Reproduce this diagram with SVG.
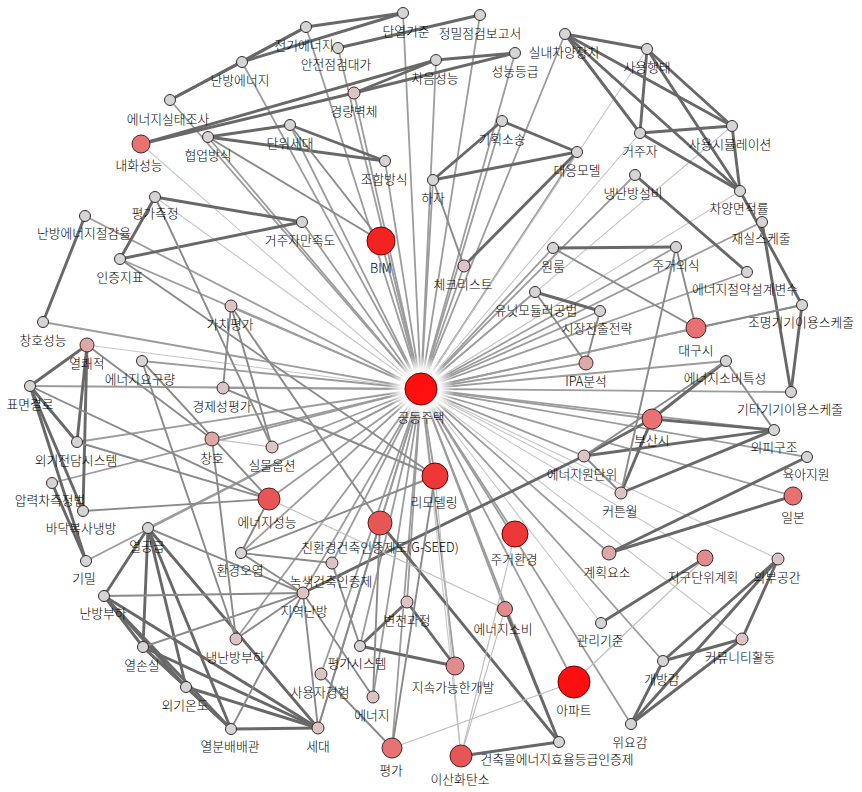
<svg xmlns="http://www.w3.org/2000/svg" width="862" height="792" viewBox="0 0 862 792">
<defs>
<radialGradient id="halo"><stop offset="0" stop-color="#fff" stop-opacity="1"/><stop offset="0.6" stop-color="#fff" stop-opacity="0.9"/><stop offset="1" stop-color="#fff" stop-opacity="0"/></radialGradient>
</defs>
<style>
line{stroke-linecap:round}
.h{stroke:#9c9c9c;stroke-width:1.8}
.hl{stroke:#c6c6c6;stroke-width:1.1}
.d{stroke:#686868;stroke-width:2.9}
.m{stroke:#8a8a8a;stroke-width:1.9}
.l{stroke:#bdbdbd;stroke-width:1.1}
circle{stroke:#3a2a2a;stroke-width:1}
.c0{fill:#ff0f0f;stroke:#600}
.c1{fill:#f52222;stroke:#600}
.c2{fill:#ee3838;stroke:#600}
.c3{fill:#e65656;stroke:#522}
.c4{fill:#e87272}
.c5{fill:#e08c8c}
.c6{fill:#dea8a8}
.c7{fill:#dcc4c4}
.c8{fill:#d5d5d5}
text{font-family:"Noto Sans CJK KR","Noto Sans",sans-serif;font-size:12.8px;font-weight:300;text-anchor:middle;fill:#000}
</style>
<rect width="862" height="792" fill="#fff"/>
<g id="edges">
<line class="h" x1="421" y1="389" x2="403" y2="13"/>
<line class="h" x1="421" y1="389" x2="480" y2="15"/>
<line class="h" x1="421" y1="389" x2="338" y2="48"/>
<line class="h" x1="421" y1="389" x2="306" y2="27"/>
<line class="h" x1="421" y1="389" x2="242" y2="62"/>
<line class="h" x1="421" y1="389" x2="354" y2="93"/>
<line class="h" x1="421" y1="389" x2="436" y2="60"/>
<line class="h" x1="421" y1="389" x2="515" y2="53"/>
<line class="h" x1="421" y1="389" x2="565" y2="34"/>
<line class="h" x1="421" y1="389" x2="170" y2="100"/>
<line class="h" x1="421" y1="389" x2="208" y2="137"/>
<line class="h" x1="421" y1="389" x2="290" y2="125"/>
<line class="h" x1="421" y1="389" x2="385" y2="161"/>
<line class="h" x1="421" y1="389" x2="433" y2="180"/>
<line class="h" x1="421" y1="389" x2="502" y2="121"/>
<line class="h" x1="421" y1="389" x2="577" y2="152"/>
<line class="hl" x1="421" y1="389" x2="647" y2="49"/>
<line class="hl" x1="421" y1="389" x2="640" y2="133"/>
<line class="hl" x1="421" y1="389" x2="732" y2="126"/>
<line class="h" x1="421" y1="389" x2="635" y2="175"/>
<line class="hl" x1="421" y1="389" x2="740" y2="191"/>
<line class="h" x1="421" y1="389" x2="381" y2="241"/>
<line class="h" x1="421" y1="389" x2="464" y2="266"/>
<line class="h" x1="421" y1="389" x2="302" y2="222"/>
<line class="hl" x1="421" y1="389" x2="141" y2="144"/>
<line class="h" x1="421" y1="389" x2="553" y2="248"/>
<line class="h" x1="421" y1="389" x2="535" y2="292"/>
<line class="h" x1="421" y1="389" x2="600" y2="311"/>
<line class="h" x1="421" y1="389" x2="676" y2="247"/>
<line class="h" x1="421" y1="389" x2="747" y2="272"/>
<line class="h" x1="421" y1="389" x2="762" y2="222"/>
<line class="h" x1="421" y1="389" x2="802" y2="305"/>
<line class="h" x1="421" y1="389" x2="696" y2="328"/>
<line class="h" x1="421" y1="389" x2="586" y2="363"/>
<line class="h" x1="421" y1="389" x2="726" y2="361"/>
<line class="h" x1="421" y1="389" x2="791" y2="392"/>
<line class="h" x1="421" y1="389" x2="652" y2="419"/>
<line class="h" x1="421" y1="389" x2="774" y2="430"/>
<line class="h" x1="421" y1="389" x2="807" y2="457"/>
<line class="h" x1="421" y1="389" x2="584" y2="456"/>
<line class="hl" x1="421" y1="389" x2="621" y2="493"/>
<line class="h" x1="421" y1="389" x2="793" y2="496"/>
<line class="h" x1="421" y1="389" x2="609" y2="553"/>
<line class="hl" x1="421" y1="389" x2="705" y2="558"/>
<line class="hl" x1="421" y1="389" x2="778" y2="559"/>
<line class="hl" x1="421" y1="389" x2="601" y2="623"/>
<line class="hl" x1="421" y1="389" x2="742" y2="639"/>
<line class="h" x1="421" y1="389" x2="663" y2="661"/>
<line class="h" x1="421" y1="389" x2="631" y2="724"/>
<line class="h" x1="421" y1="389" x2="574" y2="682"/>
<line class="h" x1="421" y1="389" x2="559" y2="742"/>
<line class="hl" x1="421" y1="389" x2="461" y2="756"/>
<line class="h" x1="421" y1="389" x2="505" y2="609"/>
<line class="h" x1="421" y1="389" x2="455" y2="666"/>
<line class="h" x1="421" y1="389" x2="392" y2="748"/>
<line class="h" x1="421" y1="389" x2="373" y2="697"/>
<line class="h" x1="421" y1="389" x2="407" y2="602"/>
<line class="h" x1="421" y1="389" x2="360" y2="646"/>
<line class="h" x1="421" y1="389" x2="318" y2="728"/>
<line class="h" x1="421" y1="389" x2="321" y2="674"/>
<line class="h" x1="421" y1="389" x2="303" y2="593"/>
<line class="h" x1="421" y1="389" x2="332" y2="563"/>
<line class="h" x1="421" y1="389" x2="380" y2="523"/>
<line class="h" x1="421" y1="389" x2="435" y2="476"/>
<line class="h" x1="421" y1="389" x2="515" y2="534"/>
<line class="h" x1="421" y1="389" x2="241" y2="553"/>
<line class="h" x1="421" y1="389" x2="269" y2="499"/>
<line class="h" x1="421" y1="389" x2="148" y2="528"/>
<line class="h" x1="421" y1="389" x2="236" y2="639"/>
<line class="h" x1="421" y1="389" x2="272" y2="447"/>
<line class="h" x1="421" y1="389" x2="212" y2="439"/>
<line class="h" x1="421" y1="389" x2="223" y2="388"/>
<line class="h" x1="421" y1="389" x2="231" y2="306"/>
<line class="h" x1="421" y1="389" x2="142" y2="361"/>
<line class="hl" x1="421" y1="389" x2="87" y2="345"/>
<line class="h" x1="421" y1="389" x2="77" y2="442"/>
<line class="h" x1="421" y1="389" x2="30" y2="386"/>
<line class="h" x1="421" y1="389" x2="52" y2="483"/>
<line class="h" x1="421" y1="389" x2="43" y2="322"/>
<line class="h" x1="421" y1="389" x2="120" y2="259"/>
<line class="h" x1="421" y1="389" x2="86" y2="561"/>
<line class="h" x1="421" y1="389" x2="85" y2="216"/>
<line class="hl" x1="421" y1="389" x2="155" y2="197"/>

<line class="d" x1="306" y1="27" x2="403" y2="13"/>
<line class="d" x1="242" y1="62" x2="306" y2="27"/>
<line class="d" x1="170" y1="100" x2="242" y2="62"/>
<line class="d" x1="170" y1="100" x2="306" y2="27"/>
<line class="d" x1="242" y1="62" x2="403" y2="13"/>
<line class="d" x1="338" y1="48" x2="480" y2="15"/>
<line class="d" x1="436" y1="60" x2="515" y2="53"/>
<line class="d" x1="354" y1="93" x2="436" y2="60"/>
<line class="d" x1="354" y1="93" x2="515" y2="53"/>
<line class="d" x1="141" y1="144" x2="436" y2="60"/>
<line class="d" x1="141" y1="144" x2="354" y2="93"/>
<line class="d" x1="208" y1="137" x2="290" y2="125"/>
<line class="d" x1="208" y1="137" x2="385" y2="161"/>
<line class="d" x1="290" y1="125" x2="385" y2="161"/>
<line class="d" x1="502" y1="121" x2="433" y2="180"/>
<line class="d" x1="502" y1="121" x2="577" y2="152"/>
<line class="d" x1="433" y1="180" x2="577" y2="152"/>
<line class="d" x1="464" y1="266" x2="577" y2="152"/>
<line class="d" x1="565" y1="34" x2="647" y2="49"/>
<line class="d" x1="565" y1="34" x2="640" y2="133"/>
<line class="d" x1="565" y1="34" x2="732" y2="126"/>
<line class="d" x1="565" y1="34" x2="740" y2="191"/>
<line class="d" x1="647" y1="49" x2="640" y2="133"/>
<line class="d" x1="647" y1="49" x2="732" y2="126"/>
<line class="d" x1="647" y1="49" x2="740" y2="191"/>
<line class="d" x1="640" y1="133" x2="732" y2="126"/>
<line class="d" x1="640" y1="133" x2="740" y2="191"/>
<line class="d" x1="732" y1="126" x2="740" y2="191"/>
<line class="d" x1="635" y1="175" x2="747" y2="272"/>
<line class="d" x1="740" y1="191" x2="802" y2="305"/>
<line class="d" x1="762" y1="222" x2="791" y2="392"/>
<line class="d" x1="802" y1="305" x2="791" y2="392"/>
<line class="d" x1="553" y1="248" x2="676" y2="247"/>
<line class="d" x1="535" y1="292" x2="600" y2="311"/>
<line class="d" x1="726" y1="361" x2="652" y2="419"/>
<line class="d" x1="652" y1="419" x2="774" y2="430"/>
<line class="d" x1="584" y1="456" x2="774" y2="430"/>
<line class="d" x1="621" y1="493" x2="774" y2="430"/>
<line class="d" x1="584" y1="456" x2="652" y2="419"/>
<line class="d" x1="621" y1="493" x2="652" y2="419"/>
<line class="d" x1="609" y1="553" x2="807" y2="457"/>
<line class="d" x1="609" y1="553" x2="793" y2="496"/>
<line class="d" x1="778" y1="559" x2="663" y2="661"/>
<line class="d" x1="778" y1="559" x2="631" y2="724"/>
<line class="d" x1="778" y1="559" x2="742" y2="639"/>
<line class="d" x1="742" y1="639" x2="663" y2="661"/>
<line class="d" x1="742" y1="639" x2="631" y2="724"/>
<line class="d" x1="663" y1="661" x2="631" y2="724"/>
<line class="d" x1="705" y1="558" x2="601" y2="623"/>
<line class="d" x1="360" y1="646" x2="407" y2="602"/>
<line class="d" x1="360" y1="646" x2="455" y2="666"/>
<line class="d" x1="407" y1="602" x2="455" y2="666"/>
<line class="d" x1="505" y1="609" x2="559" y2="742"/>
<line class="d" x1="559" y1="742" x2="461" y2="756"/>
<line class="d" x1="380" y1="523" x2="559" y2="742"/>
<line class="d" x1="303" y1="593" x2="584" y2="456"/>
<line class="d" x1="104" y1="596" x2="143" y2="647"/>
<line class="d" x1="104" y1="596" x2="186" y2="687"/>
<line class="d" x1="104" y1="596" x2="231" y2="729"/>
<line class="d" x1="143" y1="647" x2="186" y2="687"/>
<line class="d" x1="143" y1="647" x2="231" y2="729"/>
<line class="d" x1="186" y1="687" x2="231" y2="729"/>
<line class="d" x1="148" y1="528" x2="104" y2="596"/>
<line class="d" x1="148" y1="528" x2="143" y2="647"/>
<line class="d" x1="148" y1="528" x2="186" y2="687"/>
<line class="d" x1="148" y1="528" x2="231" y2="729"/>
<line class="d" x1="231" y1="729" x2="318" y2="728"/>
<line class="d" x1="104" y1="596" x2="318" y2="728"/>
<line class="d" x1="143" y1="647" x2="318" y2="728"/>
<line class="d" x1="186" y1="687" x2="318" y2="728"/>
<line class="d" x1="148" y1="528" x2="318" y2="728"/>
<line class="d" x1="155" y1="197" x2="302" y2="222"/>
<line class="d" x1="120" y1="259" x2="302" y2="222"/>
<line class="d" x1="155" y1="197" x2="120" y2="259"/>
<line class="d" x1="85" y1="216" x2="43" y2="322"/>
<line class="d" x1="30" y1="386" x2="87" y2="345"/>
<line class="d" x1="30" y1="386" x2="77" y2="442"/>
<line class="d" x1="30" y1="386" x2="83" y2="511"/>
<line class="d" x1="30" y1="386" x2="86" y2="561"/>
<line class="d" x1="87" y1="345" x2="77" y2="442"/>
<line class="d" x1="87" y1="345" x2="83" y2="511"/>
<line class="d" x1="52" y1="483" x2="86" y2="561"/>
<line class="m" x1="77" y1="442" x2="269" y2="499"/>
<line class="m" x1="83" y1="511" x2="269" y2="499"/>

<line class="m" x1="433" y1="180" x2="464" y2="266"/>
<line class="m" x1="553" y1="248" x2="696" y2="328"/>
<line class="m" x1="535" y1="292" x2="586" y2="363"/>
<line class="m" x1="600" y1="311" x2="586" y2="363"/>
<line class="m" x1="676" y1="247" x2="696" y2="328"/>
<line class="m" x1="676" y1="247" x2="621" y2="493"/>
<line class="m" x1="696" y1="328" x2="802" y2="305"/>
<line class="m" x1="726" y1="361" x2="584" y2="456"/>
<line class="m" x1="726" y1="361" x2="774" y2="430"/>
<line class="m" x1="621" y1="493" x2="584" y2="456"/>
<line class="m" x1="104" y1="596" x2="303" y2="593"/>
<line class="m" x1="143" y1="647" x2="303" y2="593"/>
<line class="m" x1="231" y1="729" x2="303" y2="593"/>
<line class="m" x1="236" y1="639" x2="303" y2="593"/>
<line class="m" x1="148" y1="528" x2="303" y2="593"/>
<line class="m" x1="241" y1="553" x2="435" y2="476"/>
<line class="m" x1="241" y1="553" x2="303" y2="593"/>
<line class="m" x1="241" y1="553" x2="332" y2="563"/>
<line class="m" x1="241" y1="553" x2="269" y2="499"/>
<line class="m" x1="321" y1="674" x2="392" y2="748"/>
<line class="m" x1="303" y1="593" x2="373" y2="697"/>
<line class="m" x1="380" y1="523" x2="373" y2="697"/>
<line class="m" x1="332" y1="563" x2="360" y2="646"/>
<line class="m" x1="380" y1="523" x2="318" y2="728"/>
<line class="m" x1="303" y1="593" x2="318" y2="728"/>
<line class="m" x1="231" y1="306" x2="223" y2="388"/>
<line class="m" x1="231" y1="306" x2="272" y2="447"/>
<line class="m" x1="231" y1="306" x2="380" y2="523"/>
<line class="m" x1="223" y1="388" x2="435" y2="476"/>
<line class="m" x1="120" y1="259" x2="435" y2="476"/>
<line class="m" x1="155" y1="197" x2="272" y2="447"/>
<line class="m" x1="212" y1="439" x2="236" y2="639"/>
<line class="m" x1="142" y1="361" x2="269" y2="499"/>
<line class="m" x1="142" y1="361" x2="236" y2="639"/>
<line class="m" x1="87" y1="345" x2="212" y2="439"/>
<line class="m" x1="30" y1="386" x2="269" y2="499"/>
<line class="m" x1="208" y1="137" x2="381" y2="241"/>
<line class="m" x1="290" y1="125" x2="381" y2="241"/>
<line class="m" x1="435" y1="476" x2="392" y2="748"/>
<line class="l" x1="212" y1="439" x2="272" y2="447"/>
<line class="l" x1="505" y1="609" x2="461" y2="756"/>
<line class="l" x1="269" y1="499" x2="505" y2="609"/>
<line class="l" x1="392" y1="748" x2="574" y2="682"/>
<line class="l" x1="515" y1="534" x2="461" y2="756"/>
<line class="l" x1="435" y1="476" x2="461" y2="756"/>
<line class="l" x1="705" y1="558" x2="574" y2="682"/>
</g>
<circle cx="421" cy="389" r="34" fill="url(#halo)" style="stroke:none"/>
<g id="n01"><circle class="c0" cx="421" cy="389" r="16"/><text x="421" y="422">공동주택</text></g>
<g id="n02"><circle class="c1" cx="381" cy="241" r="14"/><text x="381" y="273">BIM</text></g>
<g id="n03"><circle class="c0" cx="574" cy="682" r="16"/><text x="574" y="715">아파트</text></g>
<g id="n04"><circle class="c2" cx="435" cy="476" r="13"/><text x="434" y="507">리모델링</text></g>
<g id="n05"><circle class="c2" cx="515" cy="534" r="13"/><text x="514" y="564">주거환경</text></g>
<g id="n06"><circle class="c3" cx="380" cy="523" r="12"/><text x="380" y="552">친환경건축인증제도(G-SEED)</text></g>
<g id="n07"><circle class="c3" cx="269" cy="499" r="11"/><text x="267" y="527">에너지성능</text></g>
<g id="n08"><circle class="c3" cx="461" cy="756" r="11"/><text x="460" y="784">이산화탄소</text></g>
<g id="n09"><circle class="c4" cx="392" cy="748" r="10"/><text x="391" y="775">평가</text></g>
<g id="n10"><circle class="c4" cx="696" cy="328" r="10"/><text x="696" y="355">대구시</text></g>
<g id="n11"><circle class="c4" cx="652" cy="419" r="10"/><text x="652" y="445">부산시</text></g>
<g id="n12"><circle class="c4" cx="793" cy="496" r="9"/><text x="793" y="522">일본</text></g>
<g id="n13"><circle class="c5" cx="455" cy="666" r="9"/><text x="453" y="692">지속가능한개발</text></g>
<g id="n14"><circle class="c4" cx="141" cy="144" r="9"/><text x="139" y="170">내화성능</text></g>
<g id="n15"><circle class="c5" cx="705" cy="558" r="8"/><text x="703" y="582">지구단위계획</text></g>
<g id="n16"><circle class="c5" cx="505" cy="609" r="7.5"/><text x="503" y="634">에너지소비</text></g>
<g id="n17"><circle class="c6" cx="609" cy="553" r="7"/><text x="607" y="577">계획요소</text></g>
<g id="n18"><circle class="c6" cx="586" cy="363" r="7"/><text x="586" y="386">IPA분석</text></g>
<g id="n19"><circle class="c6" cx="87" cy="345" r="7"/><text x="87" y="368">열쾌적</text></g>
<g id="n20"><circle class="c6" cx="212" cy="439" r="7"/><text x="212" y="463">창호</text></g>
<g id="n21"><circle class="c7" cx="354" cy="93" r="6"/><text x="354" y="116">경량벽체</text></g>
<g id="n22"><circle class="c7" cx="464" cy="266" r="6"/><text x="463" y="289">체크리스트</text></g>
<g id="n23"><circle class="c7" cx="231" cy="306" r="6"/><text x="230" y="329">가치평가</text></g>
<g id="n24"><circle class="c7" cx="223" cy="388" r="6"/><text x="222" y="411">경제성평가</text></g>
<g id="n25"><circle class="c7" cx="272" cy="447" r="6"/><text x="272" y="470">실물옵션</text></g>
<g id="n26"><circle class="c7" cx="332" cy="563" r="6"/><text x="331" y="586">녹색건축인증제</text></g>
<g id="n27"><circle class="c7" cx="303" cy="593" r="6"/><text x="304" y="616">지역난방</text></g>
<g id="n28"><circle class="c7" cx="407" cy="602" r="6"/><text x="407" y="625">변천과정</text></g>
<g id="n29"><circle class="c7" cx="321" cy="674" r="6"/><text x="320" y="697">사용자경험</text></g>
<g id="n30"><circle class="c7" cx="373" cy="697" r="6"/><text x="372" y="720">에너지</text></g>
<g id="n31"><circle class="c7" cx="318" cy="728" r="6"/><text x="318" y="751">세대</text></g>
<g id="n32"><circle class="c7" cx="236" cy="639" r="6"/><text x="235" y="662">냉난방부하</text></g>
<g id="n33"><circle class="c7" cx="621" cy="493" r="6"/><text x="620" y="516">커튼월</text></g>
<g id="n34"><circle class="c7" cx="584" cy="456" r="6"/><text x="582" y="479">에너지원단위</text></g>
<g id="n35"><circle class="c7" cx="778" cy="559" r="6"/><text x="777" y="582">외부공간</text></g>
<g id="n36"><circle class="c7" cx="742" cy="639" r="6"/><text x="740" y="662">커뮤니티활동</text></g>
<g id="n37"><circle class="c8" cx="306" cy="27" r="5.5"/><text x="304" y="50">전기에너지</text></g>
<g id="n38"><circle class="c8" cx="403" cy="13" r="5.5"/><text x="406" y="36">단열기준</text></g>
<g id="n39"><circle class="c8" cx="480" cy="15" r="5.5"/><text x="480" y="38">정밀점검보고서</text></g>
<g id="n40"><circle class="c8" cx="338" cy="48" r="5.5"/><text x="336" y="69">안전점검대가</text></g>
<g id="n41"><circle class="c8" cx="565" cy="34" r="5.5"/><text x="564" y="57">실내차양장치</text></g>
<g id="n42"><circle class="c8" cx="515" cy="53" r="5.5"/><text x="515" y="76">성능등급</text></g>
<g id="n43"><circle class="c8" cx="436" cy="60" r="5.5"/><text x="435" y="83">차음성능</text></g>
<g id="n44"><circle class="c8" cx="242" cy="62" r="5.5"/><text x="240" y="85">난방에너지</text></g>
<g id="n45"><circle class="c8" cx="170" cy="100" r="5.5"/><text x="168" y="124">에너지실태조사</text></g>
<g id="n46"><circle class="c8" cx="208" cy="137" r="5.5"/><text x="208" y="160">협업방식</text></g>
<g id="n47"><circle class="c8" cx="290" cy="125" r="5.5"/><text x="290" y="148">단위세대</text></g>
<g id="n48"><circle class="c8" cx="385" cy="161" r="5.5"/><text x="384" y="184">조합방식</text></g>
<g id="n49"><circle class="c8" cx="433" cy="180" r="5.5"/><text x="433" y="203">하자</text></g>
<g id="n50"><circle class="c8" cx="502" cy="121" r="5.5"/><text x="502" y="144">기획소송</text></g>
<g id="n51"><circle class="c8" cx="577" cy="152" r="5.5"/><text x="577" y="175">대응모델</text></g>
<g id="n52"><circle class="c8" cx="647" cy="49" r="5.5"/><text x="647" y="72">사용행태</text></g>
<g id="n53"><circle class="c8" cx="640" cy="133" r="5.5"/><text x="640" y="156">거주자</text></g>
<g id="n54"><circle class="c8" cx="732" cy="126" r="5.5"/><text x="730" y="149">사용시뮬레이션</text></g>
<g id="n55"><circle class="c8" cx="635" cy="175" r="5.5"/><text x="633" y="198">냉난방설비</text></g>
<g id="n56"><circle class="c8" cx="740" cy="191" r="5.5"/><text x="739" y="213">차양면적률</text></g>
<g id="n57"><circle class="c8" cx="762" cy="222" r="5.5"/><text x="761" y="243">재실스케줄</text></g>
<g id="n58"><circle class="c8" cx="747" cy="272" r="5.5"/><text x="745" y="294">에너지절약설계변수</text></g>
<g id="n59"><circle class="c8" cx="802" cy="305" r="5.5"/><text x="801" y="327">조명기기이용스케줄</text></g>
<g id="n60"><circle class="c8" cx="676" cy="247" r="5.5"/><text x="676" y="270">주거의식</text></g>
<g id="n61"><circle class="c8" cx="600" cy="311" r="5.5"/><text x="597" y="333">시장진출전략</text></g>
<g id="n62"><circle class="c8" cx="726" cy="361" r="5.5"/><text x="725" y="383">에너지소비특성</text></g>
<g id="n63"><circle class="c8" cx="791" cy="392" r="5.5"/><text x="790" y="414">기타기기이용스케줄</text></g>
<g id="n64"><circle class="c8" cx="553" cy="248" r="5.5"/><text x="553" y="271">원룸</text></g>
<g id="n65"><circle class="c8" cx="535" cy="292" r="5.5"/><text x="536" y="315">유닛모듈러공법</text></g>
<g id="n66"><circle class="c8" cx="302" cy="222" r="5.5"/><text x="300" y="245">거주자만족도</text></g>
<g id="n67"><circle class="c8" cx="155" cy="197" r="5.5"/><text x="155" y="218">평가측정</text></g>
<g id="n68"><circle class="c8" cx="85" cy="216" r="5.5"/><text x="84" y="238">난방에너지절감율</text></g>
<g id="n69"><circle class="c8" cx="120" cy="259" r="5.5"/><text x="120" y="282">인증지표</text></g>
<g id="n70"><circle class="c8" cx="43" cy="322" r="5.5"/><text x="43" y="345">창호성능</text></g>
<g id="n71"><circle class="c8" cx="142" cy="361" r="5.5"/><text x="140" y="384">에너지요구량</text></g>
<g id="n72"><circle class="c8" cx="30" cy="386" r="5.5"/><text x="30" y="409">표면결로</text></g>
<g id="n73"><circle class="c8" cx="77" cy="442" r="5.5"/><text x="76" y="465">외기전담시스템</text></g>
<g id="n74"><circle class="c8" cx="52" cy="483" r="5.5"/><text x="50" y="505">압력차측정법</text></g>
<g id="n75"><circle class="c8" cx="83" cy="511" r="5.5"/><text x="81" y="533">바닥복사냉방</text></g>
<g id="n76"><circle class="c8" cx="148" cy="528" r="5.5"/><text x="147" y="551">열공급</text></g>
<g id="n77"><circle class="c8" cx="86" cy="561" r="5.5"/><text x="84" y="583">기밀</text></g>
<g id="n78"><circle class="c8" cx="241" cy="553" r="5.5"/><text x="240" y="575">환경오염</text></g>
<g id="n79"><circle class="c8" cx="774" cy="430" r="5.5"/><text x="774" y="452">외피구조</text></g>
<g id="n80"><circle class="c8" cx="807" cy="457" r="5.5"/><text x="806" y="479">육아지원</text></g>
<g id="n81"><circle class="c8" cx="601" cy="623" r="5.5"/><text x="600" y="645">관리기준</text></g>
<g id="n82"><circle class="c8" cx="663" cy="661" r="5.5"/><text x="662" y="684">개방감</text></g>
<g id="n83"><circle class="c8" cx="631" cy="724" r="5.5"/><text x="630" y="747">위요감</text></g>
<g id="n84"><circle class="c8" cx="559" cy="742" r="5.5"/><text x="557" y="764">건축물에너지효율등급인증제</text></g>
<g id="n85"><circle class="c8" cx="360" cy="646" r="5.5"/><text x="357" y="668">평가시스템</text></g>
<g id="n86"><circle class="c8" cx="104" cy="596" r="5.5"/><text x="103" y="618">난방부하</text></g>
<g id="n87"><circle class="c8" cx="143" cy="647" r="5.5"/><text x="142" y="670">열손실</text></g>
<g id="n88"><circle class="c8" cx="186" cy="687" r="5.5"/><text x="185" y="710">외기온도</text></g>
<g id="n89"><circle class="c8" cx="231" cy="729" r="5.5"/><text x="230" y="751">열분배배관</text></g>
</svg>
